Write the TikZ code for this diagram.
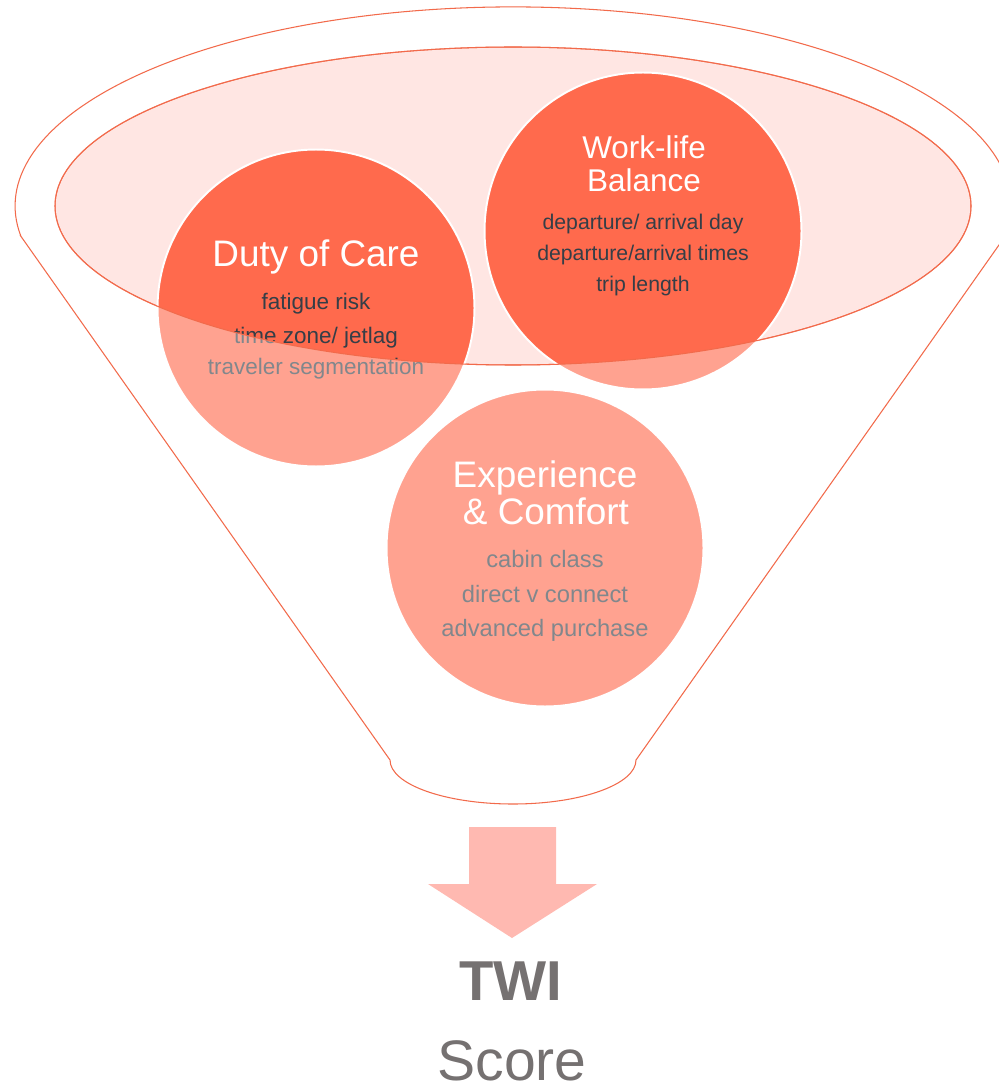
\documentclass[tikz,border=0pt]{standalone}
\usepackage{fontspec}
\setmainfont{Liberation Sans}
\definecolor{rim}{HTML}{F26A4B}
\definecolor{coral}{HTML}{FF6A4D}
\definecolor{blush}{HTML}{FFE6E3}
\definecolor{slate}{HTML}{353E47}
\definecolor{arrowpink}{HTML}{FFB9B1}
\definecolor{scoregrey}{HTML}{757171}
\tikzset{
	bubble/.style={circle,fill=coral,draw=white,line width=1.1pt,minimum size=6.34cm,inner sep=0pt},
	bubbletitle/.style={text=white,anchor=base,font=\fontsize{21}{21}\selectfont},
	bubbleitem/.style={text=slate,anchor=base,font=\fontsize{12.8}{12.8}\selectfont},
	rimline/.style={draw=rim,line width=0.6pt},
	scoretext/.style={text=scoregrey,anchor=base,inner sep=0pt},
}

\begin{document}
\begin{tikzpicture}[x=0.02cm,y=-0.02cm]
	% picture frame, one unit is one pixel of the page
	\clip (0,0) rectangle (999,1087);
	
	% inner rim of the funnel
	\def\rimx{513}
	\def\rimy{206}
	\filldraw[fill=blush,rimline] (\rimx,\rimy) ellipse [x radius=458,y radius=159];
	
	% the three bubbles
	\node[bubble] (duty) at (316,308) {};
	\node[bubble] (work) at (643,231) {};
	\node[bubble] (comfort) at (545,548) {};
	
	% Duty of Care
	\node[bubbletitle] (dutytitle) at (316,267) {Duty of Care};
	\node[bubbleitem] (duty1) at (316,310) {fatigue risk};
	\node[bubbleitem] (duty2) at (316,343) {time zone/ jetlag};
	\node[bubbleitem] (duty3) at (316,375) {traveler segmentation};
	
	% Work-life Balance
	\node[bubbletitle,font=\fontsize{17.9}{17.9}\selectfont] (worktitle1) at (644,159) {Work-life};
	\node[bubbletitle,font=\fontsize{17.9}{17.9}\selectfont] (worktitle2) at (644,192) {Balance};
	\node[bubbleitem,font=\fontsize{12.1}{12.1}\selectfont] (work1) at (643,230) {departure/ arrival day};
	\node[bubbleitem,font=\fontsize{12.1}{12.1}\selectfont] (work2) at (643,261) {departure/arrival times};
	\node[bubbleitem,font=\fontsize{12.1}{12.1}\selectfont] (work3) at (643,292) {trip length};
	
	% Experience & Comfort
	\node[bubbletitle] (comforttitle1) at (545,487) {Experience};
	\node[bubbletitle] (comforttitle2) at (546,524) {\& Comfort};
	\node[bubbleitem,font=\fontsize{13.5}{13.5}\selectfont] (comfort1) at (545,567) {cabin class};
	\node[bubbleitem,font=\fontsize{13.5}{13.5}\selectfont] (comfort2) at (545,602) {direct v connect};
	\node[bubbleitem,font=\fontsize{13.5}{13.5}\selectfont] (comfort3) at (545,636) {advanced purchase};
	
	% wash out everything below the rim
	\fill[white,fill opacity=0.38,even odd rule] (0,0) rectangle (999,1087) (\rimx,\rimy) ellipse [x radius=458,y radius=159];
	\draw[rimline] (\rimx,\rimy) ellipse [x radius=458,y radius=159];
	
	% funnel body
	\draw[rimline] (20.7,236) -- (390,760) arc[start angle=180,end angle=0,x radius=123,y radius=44]
		-- (1005.3,236) arc[start angle=8.7,end angle=-188.7,x radius=498,y radius=199] -- cycle;
	
	% block arrow down to the score
	\fill[arrowpink] (469,827) -- (556,827) -- (556,884) -- (597,884) -- (512,938) -- (428,884) -- (469,884) -- cycle;
	
	\node[scoretext,font=\bfseries\fontsize{32}{32}\selectfont] (twi) at (511,1000) {TWI};
	\node[scoretext,font=\fontsize{32.5}{32.5}\selectfont] (score) at (512,1080) {Score};
\end{tikzpicture}
\end{document}
